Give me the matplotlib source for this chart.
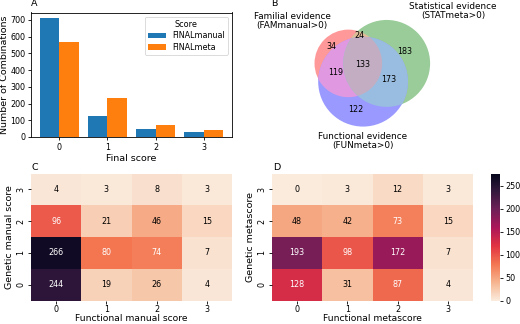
import numpy as np
import matplotlib
matplotlib.use("Agg")
import matplotlib.pyplot as plt
from matplotlib.colors import LinearSegmentedColormap, to_rgb
from matplotlib.patches import Circle, Polygon

# panel A: number of combinations per final score
final_scores = [0, 1, 2, 3]
final_manual = [709, 125, 50, 32]
final_meta = [568, 235, 73, 40]

# panel B: venn region counts (fam, stat, fun membership)
venn_counts = {'100': 34, '010': 183, '110': 24, '001': 122,
               '101': 119, '011': 173, '111': 133}
venn_labels = ['Familial evidence\n(FAMmanual>0)',
               'Statistical evidence\n(STATmeta>0)',
               'Functional evidence\n(FUNmeta>0)']

# panels C/D: rows = genetic score 0..3, cols = functional score 0..3
score_levels = [0, 1, 2, 3]
manual_grid = [[244, 19, 26, 4],
               [266, 80, 74, 7],
               [96, 21, 46, 15],
               [4, 3, 8, 3]]
meta_grid = [[128, 31, 87, 4],
             [193, 98, 172, 7],
             [48, 42, 73, 15],
             [0, 3, 12, 3]]

LABEL_FS = 6.8
TICK_FS = 5.8

plt.rcParams['axes.linewidth'] = 0.6
plt.rcParams['xtick.major.width'] = 0.6
plt.rcParams['ytick.major.width'] = 0.6
plt.rcParams['xtick.major.size'] = 2.5
plt.rcParams['ytick.major.size'] = 2.5
plt.rcParams['xtick.major.pad'] = 1.5
plt.rcParams['ytick.major.pad'] = 1.5

fig = plt.figure(figsize=(5.2, 3.24), dpi=100)

# ---- A: grouped bars
ax_a = fig.add_axes([31/520, 1 - 137/324, 201/520, 124.5/324])
x = np.arange(len(final_scores))
w = 0.4
ax_a.bar(x - w/2, final_manual, w, color='#1f77b4', label='FINALmanual')
ax_a.bar(x + w/2, final_meta, w, color='#ff7f0e', label='FINALmeta')
ax_a.set_xticks(x)
ax_a.set_xticklabels([str(s) for s in final_scores])
ax_a.set_yticks(np.arange(0, 701, 100))
ax_a.tick_params(labelsize=TICK_FS)
ax_a.set_xlabel('Final score', fontsize=LABEL_FS, labelpad=1.5)
ax_a.set_ylabel('Number of Combinations', fontsize=LABEL_FS, labelpad=1)
leg = ax_a.legend(title='Score', loc='upper right', fontsize=TICK_FS,
                  title_fontsize=TICK_FS, handlelength=2.2, borderpad=0.4,
                  labelspacing=0.3)
leg.get_frame().set_linewidth(0.6)

# ---- B: three-set venn with area-proportional circles
def lens_area(r1, r2, d):
    if d >= r1 + r2:
        return 0.0
    if d <= abs(r1 - r2):
        return np.pi * min(r1, r2) ** 2
    a1 = r1**2 * np.arccos((d*d + r1*r1 - r2*r2) / (2*d*r1))
    a2 = r2**2 * np.arccos((d*d + r2*r2 - r1*r1) / (2*d*r2))
    a3 = 0.5 * np.sqrt((-d + r1 + r2) * (d + r1 - r2) * (d - r1 + r2) * (d + r1 + r2))
    return a1 + a2 - a3


def solve_dist(r1, r2, target):
    lo, hi = abs(r1 - r2), r1 + r2
    for _ in range(60):
        mid = (lo + hi) / 2
        if lens_area(r1, r2, mid) > target:
            lo = mid
        else:
            hi = mid
    return (lo + hi) / 2


set_size = [sum(v for k, v in venn_counts.items() if k[i] == '1') for i in range(3)]
pair_size = {}
for i in range(3):
    for j in range(i + 1, 3):
        pair_size[(i, j)] = sum(v for k, v in venn_counts.items()
                                if k[i] == '1' and k[j] == '1')
radii = [np.sqrt(s / np.pi) for s in set_size]
d01 = solve_dist(radii[0], radii[1], pair_size[(0, 1)])
d02 = solve_dist(radii[0], radii[2], pair_size[(0, 2)])
d12 = solve_dist(radii[1], radii[2], pair_size[(1, 2)])
cx2 = (d02**2 - d12**2 + d01**2) / (2 * d01)
cy2 = -np.sqrt(max(d02**2 - cx2**2, 0))
centers = np.array([[0, 0], [d01, 0], [cx2, cy2]])

# map to pixel-like units of the venn axes (y grows downward)
k = 3.4
centers = centers * k
centers[:, 1] *= -1
centers += np.array([366, 69.5]) - centers.mean(axis=0)
radii = [r * k for r in radii]

ax_b = fig.add_axes([0.5, 0.5, 0.5, 0.5])
ax_b.set_xlim(260, 520)
ax_b.set_ylim(162, 0)
ax_b.axis('off')

base = [np.array(to_rgb(c)) for c in ['r', 'g', 'b']]


def mix(*cols):
    if len(cols) == 1:
        m = cols[0]
    elif len(cols) == 2:
        m = 0.7 * (cols[0] + cols[1])
    else:
        m = 0.4 * (cols[0] + cols[1] + cols[2])
    m = np.minimum(m, 1.0)
    return 0.6 + 0.4 * m  # alpha 0.4 over white


def intersect_poly(idx):
    pts = []
    t = np.linspace(0, 2*np.pi, 1440, endpoint=False)
    for i in idx:
        p = centers[i] + radii[i] * np.c_[np.cos(t), np.sin(t)]
        ok = np.ones(len(p), bool)
        for j in idx:
            if j != i:
                ok &= np.hypot(*(p - centers[j]).T) <= radii[j] + 1e-6
        pts.append(p[ok])
    pts = np.vstack(pts)
    c = pts.mean(axis=0)
    order = np.argsort(np.arctan2(pts[:, 1] - c[1], pts[:, 0] - c[0]))
    return pts[order]


for i in range(3):
    ax_b.add_patch(Circle(centers[i], radii[i], color=mix(base[i]), lw=0))
for i, j in [(0, 1), (0, 2), (1, 2)]:
    ax_b.add_patch(Polygon(intersect_poly([i, j]), closed=True,
                           color=mix(base[i], base[j]), lw=0))
ax_b.add_patch(Polygon(intersect_poly([0, 1, 2]), closed=True,
                       color=mix(*base), lw=0))

# region labels at region centroids
gx, gy = np.meshgrid(np.arange(260, 520, 0.25), np.arange(0, 162, 0.25))
inside = [np.hypot(gx - c[0], gy - c[1]) <= r for c, r in zip(centers, radii)]
for key, n in venn_counts.items():
    m = np.ones_like(gx, bool)
    for i in range(3):
        m &= inside[i] if key[i] == '1' else ~inside[i]
    ax_b.text(gx[m].mean(), gy[m].mean(), str(n), ha='center', va='center',
              fontsize=TICK_FS)

set_label_pos = [(292, 21), (453, 11), (363, 141)]
for (lx, ly), lab in zip(set_label_pos, venn_labels):
    ax_b.text(lx, ly, lab, ha='center', va='center', fontsize=6.4,
              linespacing=1.1)

# ---- C/D: heatmaps
rocket = LinearSegmentedColormap.from_list('rocket', [
    (0.0, '#03051a'), (1/7, '#35193e'), (2/7, '#701f57'), (3/7, '#ad1759'),
    (4/7, '#e13342'), (5/7, '#f37651'), (6/7, '#f6b48f'), (1.0, '#faebdd')])
rocket_r = rocket.reversed()
vmin, vmax = 0, 277


def luminance(c):
    rgb = np.array(c[:3])
    rgb = np.where(rgb <= .03928, rgb / 12.92, ((rgb + .055) / 1.055) ** 2.4)
    return rgb.dot([.2126, .7152, .0722])


def heatmap(ax, grid, xlabel, ylabel):
    data = np.array(grid)
    mesh = ax.pcolormesh(np.arange(5), np.arange(5), data, cmap=rocket_r,
                         vmin=vmin, vmax=vmax)
    for r in range(4):
        for c in range(4):
            col = rocket_r((data[r, c] - vmin) / (vmax - vmin))
            tc = 'black' if luminance(col) > .408 else 'white'
            ax.text(c + 0.5, r + 0.5, str(data[r, c]), ha='center',
                    va='center', color=tc, fontsize=TICK_FS)
    ax.set_xlim(0, 4)
    ax.set_ylim(0, 4)
    ax.set_xticks(np.arange(4) + 0.5)
    ax.set_xticklabels([str(s) for s in score_levels])
    ax.set_yticks(np.arange(4) + 0.5)
    ax.set_yticklabels([str(s) for s in score_levels], rotation=90, va='center')
    ax.tick_params(labelsize=TICK_FS)
    ax.tick_params(axis='x', length=2, pad=1)
    for s in ax.spines.values():
        s.set_visible(False)
    ax.set_xlabel(xlabel, fontsize=6.6, labelpad=0)
    ax.set_ylabel(ylabel, fontsize=LABEL_FS, labelpad=2)
    return mesh


ax_c = fig.add_axes([31/520, 1 - 300.5/324, 201/520, 127/324])
heatmap(ax_c, manual_grid, 'Functional manual score', 'Genetic manual score')
ax_d = fig.add_axes([272/520, 1 - 300.5/324, 201/520, 127/324])
mesh = heatmap(ax_d, meta_grid, 'Functional metascore', 'Genetic metascore')

cax = fig.add_axes([491/520, 1 - 300.5/324, 9/520, 127/324])
cbar = fig.colorbar(mesh, cax=cax)
cbar.outline.set_visible(False)
cbar.set_ticks(np.arange(0, 251, 50))
cbar.ax.tick_params(labelsize=TICK_FS)

# panel letters
for lx, ly, letter in [(31, 6, 'A'), (271, 6, 'B'), (31, 170.5, 'C'), (273, 170.5, 'D')]:
    fig.text(lx/520, 1 - ly/324, letter, fontsize=LABEL_FS, va='baseline')

fig.savefig('out.png', dpi=100)
